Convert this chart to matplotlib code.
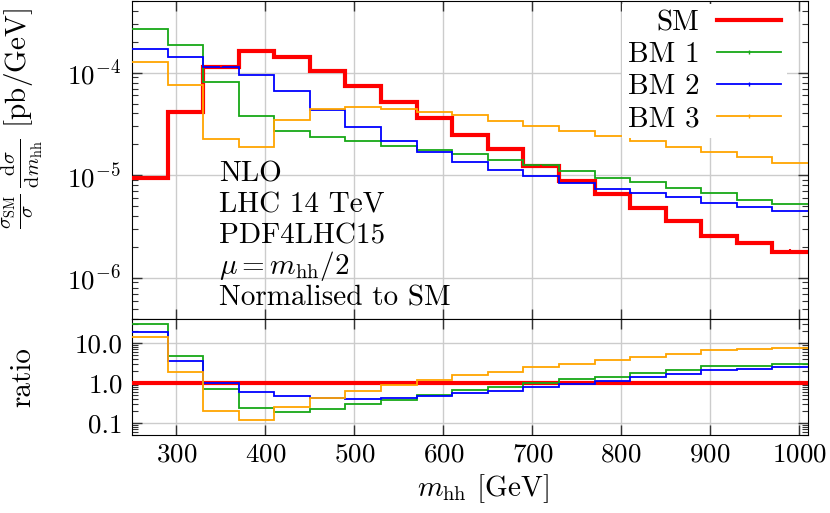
import numpy as np
import matplotlib
matplotlib.use('Agg')
import matplotlib.pyplot as plt
from matplotlib.lines import Line2D
from matplotlib.ticker import FixedLocator, FixedFormatter, LogLocator, NullFormatter

plt.rcParams['font.family'] = 'serif'
plt.rcParams['font.serif'] = ['cmr10']
plt.rcParams['mathtext.fontset'] = 'cm'
plt.rcParams['axes.unicode_minus'] = False
plt.rcParams['axes.formatter.use_mathtext'] = True
plt.rcParams['font.size'] = 21
plt.rcParams['xtick.labelsize'] = 19.5
plt.rcParams['ytick.labelsize'] = 19.5

# bin edges in m_hh [GeV]
edges = [250, 290, 330, 370, 410, 450, 490, 530, 570, 610, 650,
         690, 730, 770, 810, 850, 890, 930, 970, 1010]

# normalised differential cross sections [pb/GeV]
sm = [9.3e-6, 4.1e-5, 1.14e-4, 1.63e-4, 1.41e-4, 1.03e-4, 7.4e-5, 5.15e-5, 3.6e-5, 2.48e-5,
      1.79e-5, 1.24e-5, 8.8e-6, 6.6e-6, 4.8e-6, 3.6e-6, 2.56e-6, 2.17e-6, 1.79e-6]
sm_err = [2e-7, 5e-7, 1e-6, 1.2e-6, 1e-6, 8e-7, 6e-7, 4e-7, 3e-7, 2e-7,
          2e-7, 1.5e-7, 1.2e-7, 1e-7, 1e-7, 1e-7, 1e-7, 1e-7, 1e-7]
bm1 = [2.67e-4, 1.86e-4, 8.05e-5, 3.77e-5, 2.69e-5, 2.35e-5, 2.14e-5, 1.94e-5, 1.75e-5, 1.6e-5,
       1.42e-5, 1.26e-5, 1.09e-5, 9.4e-6, 8.5e-6, 7.5e-6, 6.7e-6, 5.7e-6, 5.2e-6]
bm2 = [1.72e-4, 1.41e-4, 1.13e-4, 9.6e-5, 6.6e-5, 4.35e-5, 2.94e-5, 2.14e-5, 1.68e-5, 1.35e-5,
       1.13e-5, 9.8e-6, 8.4e-6, 7.4e-6, 6.7e-6, 6.1e-6, 5.4e-6, 4.85e-6, 4.47e-6]
bm3 = [1.26e-4, 7.6e-5, 2.24e-5, 1.88e-5, 3.47e-5, 4.4e-5, 4.6e-5, 4.43e-5, 4.18e-5, 3.83e-5,
       3.37e-5, 3.05e-5, 2.67e-5, 2.39e-5, 2.14e-5, 1.88e-5, 1.67e-5, 1.51e-5, 1.33e-5]

labels = ['SM', 'BM 1', 'BM 2', 'BM 3']
colors = ['#ff0000', '#17a817', '#0000ff', '#ffa500']
widths = [3.0, 1.3, 1.3, 1.3]

info_lines = ['NLO', 'LHC 14 TeV', 'PDF4LHC15', r'$\mu = m_{\mathrm{hh}}/2$', 'Normalised to SM']

edges = np.array(edges)
centres = 0.5 * (edges[1:] + edges[:-1])
series = [np.array(s) for s in (sm, bm1, bm2, bm3)]

fig = plt.figure(figsize=(8.3, 5.13), dpi=100)
ax = fig.add_axes([0.159, 0.379, 0.8145, 0.619])
rx = fig.add_axes([0.159, 0.152, 0.8145, 0.227], sharex=ax)

for a in (ax, rx):
    a.grid(True, color='#cccccc', lw=1.0, zorder=0)
    a.set_axisbelow(True)
    a.tick_params(which='both', direction='in', top=True, right=True, color='#333333')
    a.tick_params(which='major', length=7, width=1)
    a.tick_params(which='minor', length=4, width=0.8)
    a.tick_params(axis='x', which='minor', length=0)
    a.tick_params(axis='x', pad=5.5)
ax.tick_params(axis='y', pad=8)
rx.tick_params(axis='y', pad=6.5)

# main panel
for s, c, w in zip(series, colors, widths):
    ax.stairs(s, edges, baseline=None, color=c, lw=w, zorder=3)
ax.errorbar(centres, series[0], yerr=sm_err, fmt='none', ecolor=colors[0], elinewidth=1.5, zorder=4)

ax.set_yscale('log')
ax.set_ylim(4e-7, 5e-4)
ax.set_xlim(250, 1010)
ax.yaxis.set_major_locator(LogLocator(base=10, numticks=10))
ax.yaxis.set_minor_locator(LogLocator(base=10, subs=np.arange(2, 10), numticks=10))
ax.yaxis.set_minor_formatter(NullFormatter())
plt.setp(ax.get_xticklabels(), visible=False)
ax.set_ylabel(r'$\frac{\sigma_{\mathrm{SM}}}{\sigma}\,\frac{\mathrm{d}\sigma}{\mathrm{d}m_{\mathrm{hh}}}$ [pb/GeV]')
ax.yaxis.set_label_coords(-0.128, 0.63)

for i, line in enumerate(info_lines):
    ax.text(0.129, 0.431 - i * 0.0972, line, transform=ax.transAxes, va='baseline', ha='left', zorder=5)

handles = [Line2D([], [], color=c, lw=w, marker='|', markersize=3, markeredgewidth=1.0)
           for c, w in zip(colors, widths)]
handles[0] = Line2D([], [], color=colors[0], lw=widths[0])
leg = ax.legend(handles, labels, loc='upper right', bbox_to_anchor=(0.969, 0.99),
                markerfirst=False, frameon=True,
                fancybox=False, edgecolor='none', facecolor='white', framealpha=1,
                handlelength=2.2, handletextpad=0.6, labelspacing=0.19,
                borderpad=0.2, borderaxespad=0.0)
leg.set_zorder(6)

# ratio panel
for s, c, w in zip(series, colors, widths):
    rx.stairs(s / series[0], edges, baseline=None, color=c, lw=w, zorder=3)
rx.set_yscale('log')
rx.set_ylim(0.05, 40)
rx.yaxis.set_major_locator(FixedLocator([0.1, 1.0, 10.0]))
rx.yaxis.set_major_formatter(FixedFormatter(['0.1', '1.0', '10.0']))
rx.yaxis.set_minor_locator(LogLocator(base=10, subs=np.arange(2, 10), numticks=10))
rx.yaxis.set_minor_formatter(NullFormatter())
rx.set_xticks([300, 400, 500, 600, 700, 800, 900, 1000])
rx.set_xlim(250, 1010)
rx.set_ylabel('ratio')
rx.yaxis.set_label_coords(-0.142, 0.5)
rx.set_xlabel(r'$m_{\mathrm{hh}}$ [GeV]')
rx.xaxis.set_label_coords(0.52, -0.32)

fig.savefig('out.png', dpi=100)
